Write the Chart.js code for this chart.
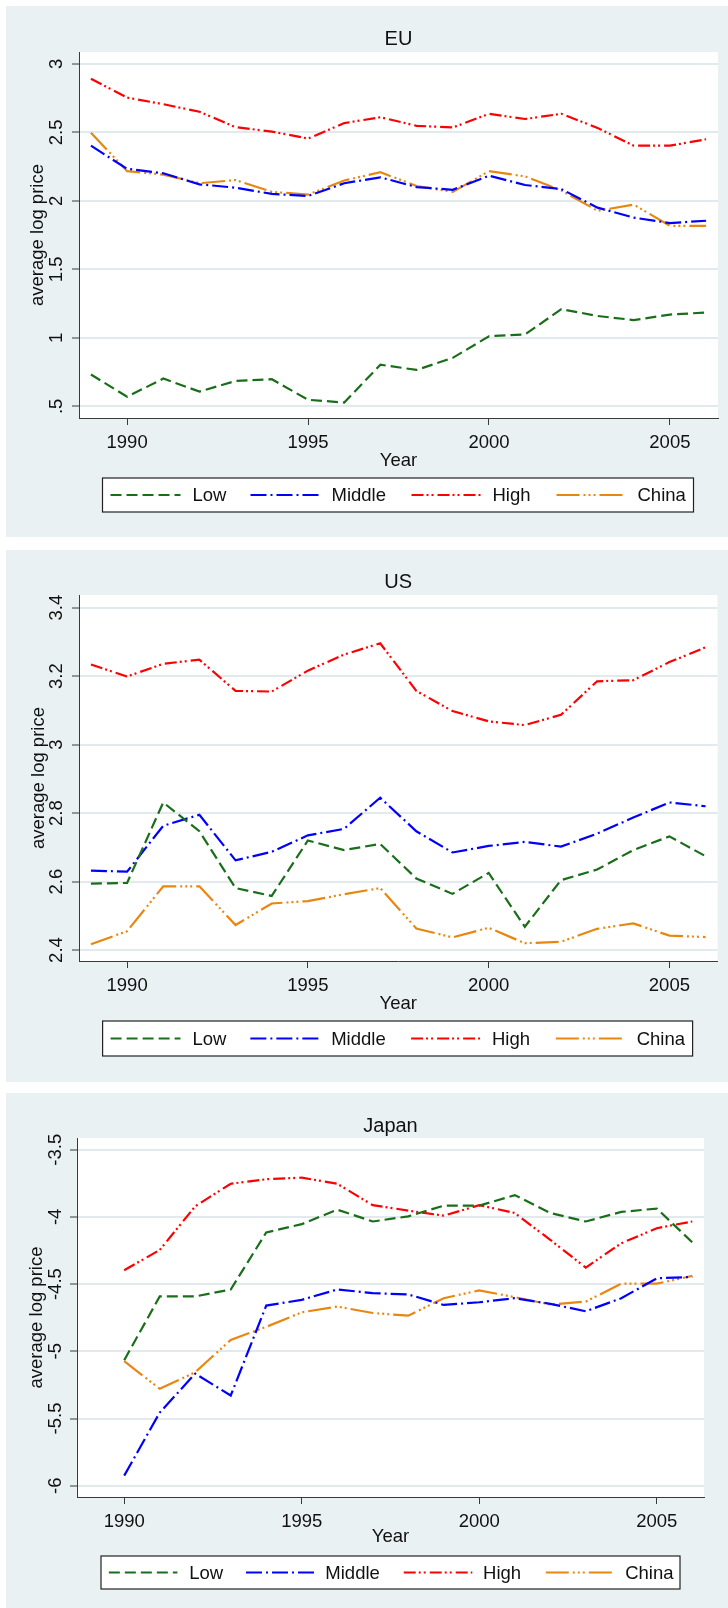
<!DOCTYPE html>
<html><head><meta charset="utf-8">
<script src="https://cdn.jsdelivr.net/npm/chart.js@4.4.1/dist/chart.umd.min.js"></script>
<style>
html,body{margin:0;padding:0;background:#fff;width:728px;height:1608px;overflow:hidden}
.panel{position:absolute;left:6px;width:722px}
canvas{display:block}
</style></head><body>
<div class="panel" style="top:6px;height:531px"><canvas id="c1" width="722" height="531"></canvas></div>
<div class="panel" style="top:550px;height:532px"><canvas id="c2" width="722" height="532"></canvas></div>
<div class="panel" style="top:1093px;height:515px"><canvas id="c3" width="722" height="515"></canvas></div>
<script>
// ---------- data ----------
const years = [1989,1990,1991,1992,1993,1994,1995,1996,1997,1998,1999,2000,2001,2002,2003,2004,2005,2006];
const yearsJapan = [1990,1991,1992,1993,1994,1995,1996,1997,1998,1999,2000,2001,2002,2003,2004,2005,2006];
const seriesNames = ['Low','Middle','High','China'];
const xTicks = [1990,1995,2000,2005];

const euLow    = [0.733,0.570,0.703,0.608,0.686,0.698,0.548,0.528,0.804,0.766,0.854,1.012,1.025,1.210,1.160,1.130,1.170,1.185];
const euMiddle = [2.403,2.234,2.202,2.121,2.096,2.051,2.036,2.129,2.172,2.101,2.081,2.184,2.116,2.086,1.951,1.878,1.838,1.855];
const euHigh   = [2.892,2.754,2.706,2.651,2.538,2.506,2.455,2.568,2.611,2.548,2.536,2.636,2.598,2.636,2.533,2.403,2.403,2.450];
const euChina  = [2.498,2.217,2.192,2.129,2.152,2.066,2.046,2.149,2.209,2.109,2.066,2.217,2.179,2.076,1.928,1.973,1.818,1.818];
const euTicks  = [0.5,1,1.5,2,2.5,3];

const usLow    = [2.594,2.596,2.831,2.747,2.581,2.558,2.720,2.692,2.710,2.609,2.564,2.625,2.468,2.604,2.635,2.692,2.732,2.674];
const usMiddle = [2.632,2.629,2.763,2.795,2.662,2.687,2.735,2.754,2.845,2.747,2.685,2.704,2.716,2.702,2.740,2.787,2.831,2.820];
const usHigh   = [3.234,3.199,3.236,3.248,3.157,3.155,3.216,3.263,3.296,3.157,3.098,3.068,3.057,3.087,3.185,3.188,3.241,3.284];
const usChina  = [2.417,2.455,2.586,2.586,2.473,2.536,2.543,2.563,2.581,2.463,2.437,2.465,2.420,2.424,2.462,2.478,2.442,2.438];
const usTicks  = [2.4,2.6,2.8,3,3.2,3.4];

const jpLow    = [-5.066,-4.592,-4.592,-4.540,-4.116,-4.054,-3.946,-4.034,-3.996,-3.916,-3.916,-3.838,-3.971,-4.034,-3.963,-3.938,-4.189];
const jpMiddle = [-5.925,-5.456,-5.166,-5.329,-4.660,-4.617,-4.540,-4.567,-4.577,-4.655,-4.635,-4.605,-4.647,-4.702,-4.605,-4.457,-4.447];
const jpHigh   = [-4.397,-4.246,-3.921,-3.753,-3.720,-3.708,-3.753,-3.913,-3.953,-3.991,-3.913,-3.971,-4.171,-4.377,-4.196,-4.084,-4.034];
const jpChina  = [-5.073,-5.279,-5.156,-4.915,-4.818,-4.710,-4.667,-4.715,-4.735,-4.605,-4.547,-4.597,-4.652,-4.630,-4.497,-4.497,-4.439];
const jpTicks  = [-6,-5.5,-5,-4.5,-4,-3.5];

// ---------- styles ----------
const FONT = '"Liberation Sans", Arial, Helvetica, sans-serif';
const BG = '#eaf1f3';
const GRID = '#e2eaed';
const AX = '#3a3a3a';
const TXT = '#111111';
const COLORS = ['#1a6e1a', '#0000ff', '#ff0000', '#e8870f'];
const DASHES = [[11,5], [16,4,2,4], [12,3,2,3,2,4], [23,4,2,3,2,3,2,4]];
const LEG_LINE = [8,148,309,454];
const LEG_TEXT = [90,229,390,535];
const LEG_REF_W = 591;

function fmtY(v){
  let s = String(Math.round(v*100)/100);
  return s.replace(/^0\./,'.').replace(/^-0\./,'-.');
}

const panelPlugin = {
  id: 'panelDeco',
  beforeDraw(chart, args, o) {
    const {ctx, chartArea: a, width, height} = chart;
    ctx.save();
    ctx.fillStyle = BG; ctx.fillRect(0,0,width,height);
    ctx.fillStyle = '#ffffff'; ctx.fillRect(a.left, a.top, a.right-a.left, a.bottom-a.top);
    ctx.restore();
  },
  afterDraw(chart, args, o) {
    const {ctx, chartArea: a} = chart;
    ctx.save();
    ctx.fillStyle = TXT;
    ctx.font = '20px ' + FONT;
    ctx.textAlign = 'center'; ctx.textBaseline = 'middle';
    ctx.fillText(o.title, (a.left+a.right)/2, o.titleY);
    const L = o.legend;
    ctx.fillStyle = '#ffffff';
    ctx.fillRect(L.x, L.y, L.w, L.h);
    ctx.strokeStyle = '#222'; ctx.lineWidth = 1.2;
    ctx.strokeRect(L.x, L.y, L.w, L.h);
    const k = L.w / LEG_REF_W;
    const cy = L.y + L.h/2;
    chart.data.datasets.forEach((ds, i) => {
      const lx = L.x + LEG_LINE[i]*k;
      ctx.beginPath();
      ctx.setLineDash(ds.borderDash);
      ctx.lineCap = 'butt';
      ctx.strokeStyle = ds.borderColor; ctx.lineWidth = 2.2;
      ctx.moveTo(lx, cy); ctx.lineTo(lx + 70*k, cy); ctx.stroke();
      ctx.setLineDash([]);
      ctx.fillStyle = TXT; ctx.font = '18.5px ' + FONT;
      ctx.textAlign = 'left'; ctx.textBaseline = 'middle';
      ctx.fillText(ds.label, L.x + LEG_TEXT[i]*k, cy + 1);
    });
    ctx.restore();
  }
};

function makeChart(id, c) {
  const datasets = c.values.map((vals, i) => ({
    label: seriesNames[i],
    data: c.xs.map((x, j) => ({x: x, y: vals[j]})),
    borderColor: COLORS[i],
    borderDash: DASHES[i],
    borderWidth: 2.2,
    borderCapStyle: 'butt',
    pointRadius: 0,
    fill: false,
    tension: 0
  }));
  const f = {family: FONT, size: 18.5};
  return new Chart(document.getElementById(id), {
    type: 'line',
    data: {datasets},
    plugins: [panelPlugin],
    options: {
      responsive: false, animation: false, devicePixelRatio: 1,
      layout: {padding: {top: c.padTop, right: c.padRight, left: 0, bottom: 0}},
      plugins: {
        legend: {display: false}, title: {display: false}, tooltip: {enabled: false},
        panelDeco: {title: c.title, titleY: c.titleY, legend: c.legend}
      },
      scales: {
        x: {
          type: 'linear', min: 1988.67, max: 2006.33,
          afterBuildTicks: s => { s.ticks = xTicks.map(v => ({value: v})); },
          afterFit: s => { s.height = c.xHeight; },
          ticks: {callback: v => String(v), font: f, color: TXT, padding: 6.5, minRotation: 0, maxRotation: 0, autoSkip: false},
          grid: {drawOnChartArea: false, drawTicks: true, tickLength: 7, tickColor: AX, tickWidth: 1},
          border: {display: true, color: AX, width: 1},
          title: {display: true, text: 'Year', font: f, color: TXT, padding: {top: 0, bottom: c.xTitlePad}}
        },
        y: {
          type: 'linear', min: c.yMin, max: c.yMax,
          afterBuildTicks: s => { s.ticks = c.yTicks.map(v => ({value: v})); },
          afterFit: s => { s.width = c.yWidth; },
          ticks: {callback: v => fmtY(v), font: f, color: TXT, padding: c.yTickPad, minRotation: 90, maxRotation: 90, crossAlign: 'center', autoSkip: false},
          grid: {color: GRID, lineWidth: 2, drawTicks: true, tickLength: 7, tickColor: AX, tickWidth: 1},
          border: {display: true, color: AX, width: 1},
          title: {display: true, text: 'average log price', font: f, color: TXT, padding: {top: c.yTitlePad, bottom: 0}}
        }
      }
    }
  });
}

makeChart('c1', {
  title: 'EU', xs: years, values: [euLow, euMiddle, euHigh, euChina], yTicks: euTicks,
  yMin: 0.415, yMax: 3.087, padTop: 46, padRight: 10, yWidth: 73, xHeight: 119,
  titleY: 33, xTitlePad: 65, yTitlePad: 20.9, yTickPad: 2.2,
  legend: {x: 96.5, y: 472, w: 591, h: 34}
});
makeChart('c2', {
  title: 'US', xs: years, values: [usLow, usMiddle, usHigh, usChina], yTicks: usTicks,
  yMin: 2.368, yMax: 3.437, padTop: 45, padRight: 10.5, yWidth: 73, xHeight: 121,
  titleY: 32.6, xTitlePad: 67.3, yTitlePad: 21.4, yTickPad: 2.2,
  legend: {x: 96.6, y: 471, w: 590, h: 35}
});
makeChart('c3', {
  title: 'Japan', xs: yearsJapan, values: [jpLow, jpMiddle, jpHigh, jpChina], yTicks: jpTicks,
  yMin: -6.084, yMax: -3.413, padTop: 45, padRight: 24, yWidth: 71, xHeight: 111,
  titleY: 33, xTitlePad: 59.5, yTitlePad: 19.9, yTickPad: -1.4,
  legend: {x: 95, y: 463, w: 579, h: 33}
});
</script>
</body></html>
